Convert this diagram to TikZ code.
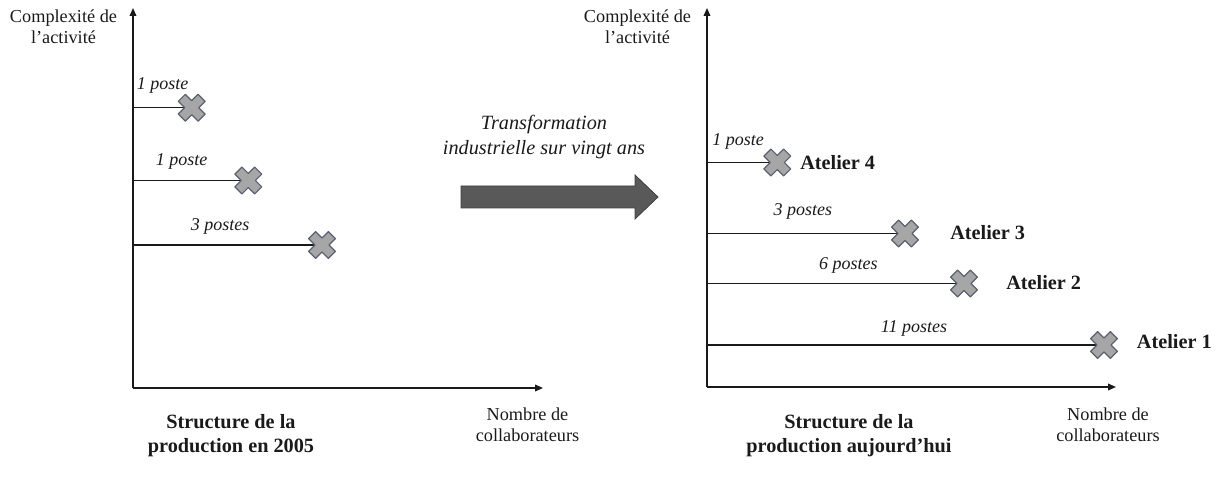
\documentclass[tikz,border=0pt]{standalone}
\usepackage{fontspec}
\setmainfont{Liberation Serif}
\usetikzlibrary{arrows.meta,backgrounds}
\definecolor{crossfill}{HTML}{A6A6A6}
\definecolor{crossline}{HTML}{5B6170}
\definecolor{bigarrow}{HTML}{595959}
\definecolor{bigarrowedge}{HTML}{3F3F3F}
\definecolor{ink}{HTML}{1A1A1A}
\tikzset{
  xmark/.style={rectangle, inner sep=0pt, minimum size=22.5pt, path picture={
    \draw[fill=crossfill, draw=crossline, line width=0.9pt, line join=round,
          shift={(path picture bounding box.center)}]
      (6.36,13.44)--(0,7.07)--(-6.36,13.44)--(-13.44,6.36)--(-7.07,0)--(-13.44,-6.36)
      --(-6.36,-13.44)--(0,-7.07)--(6.36,-13.44)--(13.44,-6.36)--(7.07,0)--(13.44,6.36)--cycle;
  }},
  axisline/.style={draw=ink, line width=1.1pt, -{Triangle[length=6pt,width=5pt]}},
  hline/.style={draw=ink, line width=1.1pt},
  postelabel/.style={text=ink, font=\fontsize{13.5}{15}\selectfont\itshape, inner sep=0pt},
  axislabel/.style={text=ink, font=\fontsize{13.7}{15.5}\selectfont, align=center, inner sep=0pt},
  atelierlabel/.style={text=ink, font=\fontsize{15.2}{17}\selectfont\bfseries, anchor=west, inner sep=0pt},
  titlelabel/.style={text=ink, font=\fontsize{15.2}{18}\selectfont\bfseries, align=center, inner sep=0pt},
  translabel/.style={text=ink, font=\fontsize{15.2}{18.75}\selectfont\itshape, align=center, inner sep=0pt},
}
\begin{document}
\begin{tikzpicture}[x=0.75pt, y=-0.75pt]
\path[use as bounding box] (0,0) rectangle (1218,477);

% ---------- left chart ----------
\coordinate (LO) at (133,388);
\coordinate (Ltop) at (133,8);
\coordinate (Lright) at (543,388);
\draw[axisline] (LO) -- (Ltop);
\draw[axisline] (LO) -- (Lright);

\coordinate (La1) at (133,107.7);
\coordinate (La2) at (133,180.5);
\coordinate (La3) at (133,245);
\node[xmark] (Lc1) at (191.7,107.7) {};
\node[xmark] (Lc2) at (248.3,180.5) {};
\node[xmark] (Lc3) at (322,245) {};
\begin{scope}[on background layer]
\draw[hline] (La1) -- (Lc1.center);
\draw[hline] (La2) -- (Lc2.center);
\draw[hline] (La3) -- (Lc3.center);
\end{scope}
\node[postelabel] (Lp1) at (162.7,85) {1 poste};
\node[postelabel] (Lp2) at (181.7,161.7) {1 poste};
\node[postelabel] (Lp3) at (220,226.7) {3 postes};

\node[axislabel] (Lylab) at (63.5,27) {Complexité de\\l’activité};
\node[axislabel] (Lxlab) at (527.5,425) {Nombre de\\collaborateurs};
\node[titlelabel] (Ltitle) at (231,436) {Structure de la\\production en 2005};

% ---------- transformation arrow ----------
\node[translabel] (trans) at (544,137.5) {Transformation\\industrielle sur vingt ans};
\draw[fill=bigarrow, draw=bigarrowedge, line width=0.6pt]
  (461,186) -- (635,186) -- (635,175) -- (658,197) -- (635,219) -- (635,208) -- (461,208) -- cycle;

% ---------- right chart ----------
\coordinate (RO) at (707,387);
\coordinate (Rtop) at (707,8);
\coordinate (Rright) at (1116,387);
\draw[axisline] (RO) -- (Rtop);
\draw[axisline] (RO) -- (Rright);

\coordinate (Ra4) at (707,162.5);
\coordinate (Ra3) at (707,233.5);
\coordinate (Ra2) at (707,283.5);
\coordinate (Ra1) at (707,345);
\node[xmark] (Rc4) at (777.3,162.5) {};
\node[xmark] (Rc3) at (905,233.5) {};
\node[xmark] (Rc2) at (964,283.5) {};
\node[xmark] (Rc1) at (1104,345) {};
\begin{scope}[on background layer]
\draw[hline] (Ra4) -- (Rc4.center);
\draw[hline] (Ra3) -- (Rc3.center);
\draw[hline] (Ra2) -- (Rc2.center);
\draw[hline] (Ra1) -- (Rc1.center);
\end{scope}
\node[postelabel] (Rp4) at (738,141.7) {1 poste};
\node[postelabel] (Rp3) at (802.8,211.7) {3 postes};
\node[postelabel] (Rp2) at (848.3,265) {6 postes};
\node[postelabel] (Rp1) at (914,328.3) {11 postes};

\node[atelierlabel] (A4) at (800,163) {Atelier 4};
\node[atelierlabel] (A3) at (950,233) {Atelier 3};
\node[atelierlabel] (A2) at (1006,283) {Atelier 2};
\node[atelierlabel] (A1) at (1136.7,342) {Atelier 1};

\node[axislabel] (Rylab) at (637.5,27) {Complexité de\\l’activité};
\node[axislabel] (Rxlab) at (1108,425) {Nombre de\\collaborateurs};
\node[titlelabel] (Rtitle) at (849,436) {Structure de la\\production aujourd’hui};
\end{tikzpicture}
\end{document}
